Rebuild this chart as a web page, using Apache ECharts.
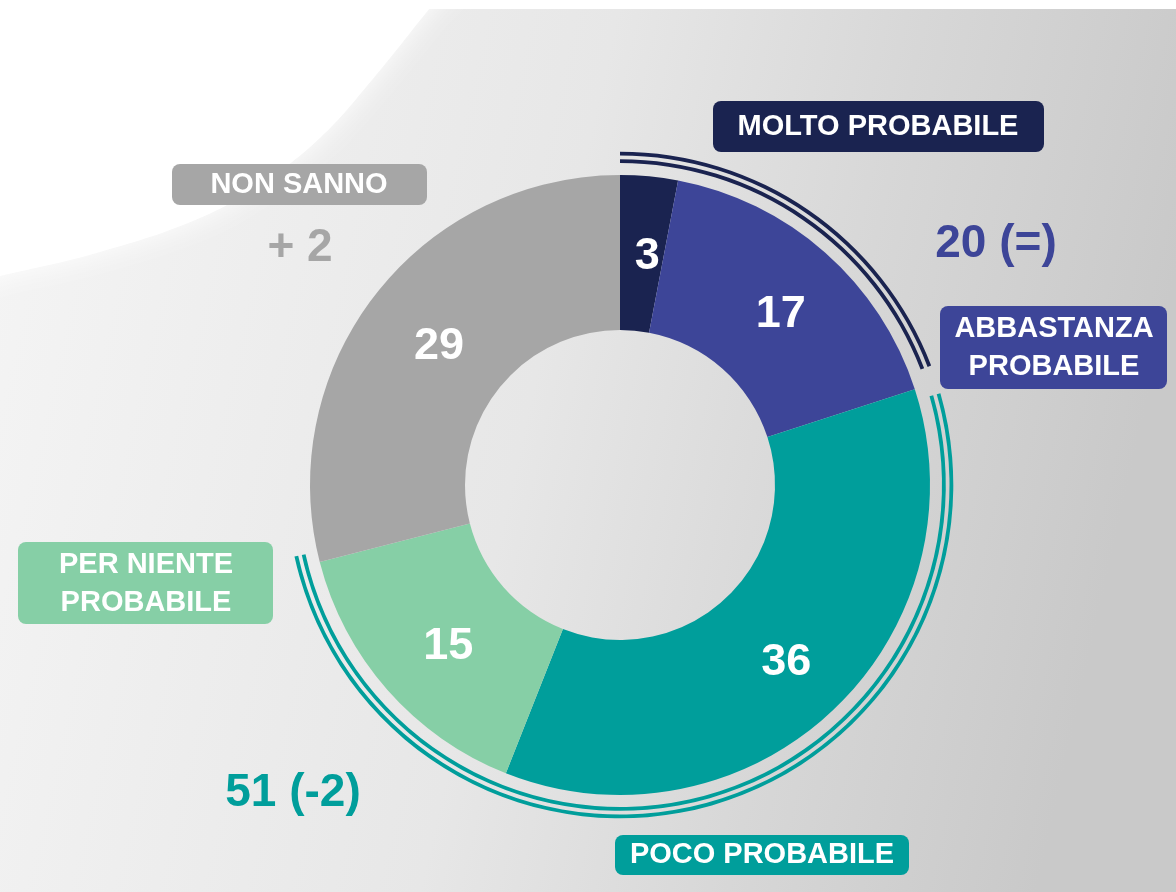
<!DOCTYPE html>
<html>
<head>
<meta charset="utf-8">
<script src="https://cdn.jsdelivr.net/npm/echarts@6/dist/echarts.min.js"></script>
<style>html,body{margin:0;padding:0;background:#fff}#c{width:1176px;height:892px}</style>
</head>
<body>
<div id="c"></div>
<script>
// ---- data ----
const categories = ['MOLTO PROBABILE', 'ABBASTANZA\nPROBABILE', 'POCO PROBABILE', 'PER NIENTE\nPROBABILE', 'NON SANNO'];
const values = [3, 17, 36, 15, 29];
const colors = ['#1a2350', '#3d4598', '#009e9b', '#86cfa6', '#a6a6a6'];
const groupTotals = [20, 51];            // probabile / improbabile
const groupChanges = ['(=)', '(-2)'];
const groupColors = ['#1a2350', '#009e9b'];
const groupTextColors = ['#3d4598', '#009e9b'];
const dontKnowChange = '+ 2';
const total = 100;

const FONT = '"Liberation Sans", Arial, sans-serif';
const chart = echarts.init(document.getElementById('c'), null, {renderer: 'canvas'});

const C = [620, 485];

function arcSeries(r0, r1, value, color, startAngle, padAngle) {
  return {
    type: 'pie', silent: true, animation: false,
    center: C, radius: [r0, r1], startAngle: startAngle, padAngle: padAngle || 0,
    clockwise: true, label: {show: false}, labelLine: {show: false},
    emphasis: {disabled: true},
    data: [
      {value: value, itemStyle: {color: color}},
      {value: total - value, itemStyle: {color: 'rgba(0,0,0,0)'}}
    ]
  };
}

function box(x, y, w, h, fill, text, cx, cy) {
  return [
    {type: 'rect', z: 50, shape: {x: x, y: y, width: w, height: h, r: 8}, style: {fill: fill}},
    {type: 'text', z: 51, x: cx, y: cy, style: {
      text: text, fill: '#fff', font: 'bold 29px ' + FONT,
      align: 'center', verticalAlign: 'middle', textAlign: 'center', textVerticalAlign: 'middle',
      lineHeight: 38
    }}
  ];
}
function bigText(text, color, cx, cy) {
  return {type: 'text', z: 51, x: cx, y: cy, style: {
    text: text, fill: color, font: 'bold 46px ' + FONT,
    align: 'center', verticalAlign: 'middle', textAlign: 'center', textVerticalAlign: 'middle'
  }};
}

const graphics = [
  // background
  {type: 'rect', z: -20, shape: {x: 0, y: 9, width: 1176, height: 883},
   style: {fill: new echarts.graphic.LinearGradient(0, 0, 1, 0.3, [
     {offset: 0, color: '#f5f5f5'}, {offset: 0.5, color: '#e7e7e7'},
     {offset: 0.75, color: '#d7d7d7'}, {offset: 1, color: '#c9c9c9'}])}},
  {type: 'polygon', z: -19,
   shape: {smooth: 0.4, points: [[-40, -40], [470, -40], [430, 8], [372, 80], [320, 138], [262, 183], [200, 218], [100, 252], [0, 276], [-40, 285]]},
   style: {fill: '#ffffff', shadowBlur: 30, shadowColor: 'rgba(255,255,255,1)'}},
  ...box(713, 101, 331, 51, colors[0], categories[0], 878, 127),
  ...box(940, 306, 227, 83, colors[1], categories[1], 1054, 348),
  ...box(615, 835, 294, 40, colors[2], categories[2], 762, 855),
  ...box(18, 542, 255, 82, colors[3], categories[3], 146, 584),
  ...box(172, 164, 255, 41, colors[4], categories[4], 299, 185),
  bigText(groupTotals[0] + ' ' + groupChanges[0], groupTextColors[0], 996, 244),
  bigText(groupTotals[1] + ' ' + groupChanges[1], groupTextColors[1], 293, 793),
  bigText(dontKnowChange, colors[4], 300, 248)
];

const option = {
  animation: false,
  backgroundColor: '#ffffff',
  graphic: {elements: graphics},
  series: [
    {
      type: 'pie', center: C, radius: [155, 310], startAngle: 90, clockwise: true,
      silent: true, emphasis: {disabled: true},
      label: {show: true, position: 'inside', formatter: '{c}', color: '#fff',
              fontSize: 45, fontWeight: 'bold', fontFamily: FONT, offset: [5, 6]},
      labelLine: {show: false},
      itemStyle: {borderWidth: 0},
      data: values.map((v, i) => ({name: categories[i], value: v, itemStyle: {color: colors[i]}}))
    },
    arcSeries(322, 325.8, groupTotals[0], groupColors[0], 91.5, 3),
    arcSeries(329.5, 333.3, groupTotals[0], groupColors[0], 91.5, 3),
    arcSeries(322, 325.8, groupTotals[1], groupColors[1], 16, 0),
    arcSeries(329.5, 333.3, groupTotals[1], groupColors[1], 16, 0)
  ]
};
chart.setOption(option);
</script>
</body>
</html>
